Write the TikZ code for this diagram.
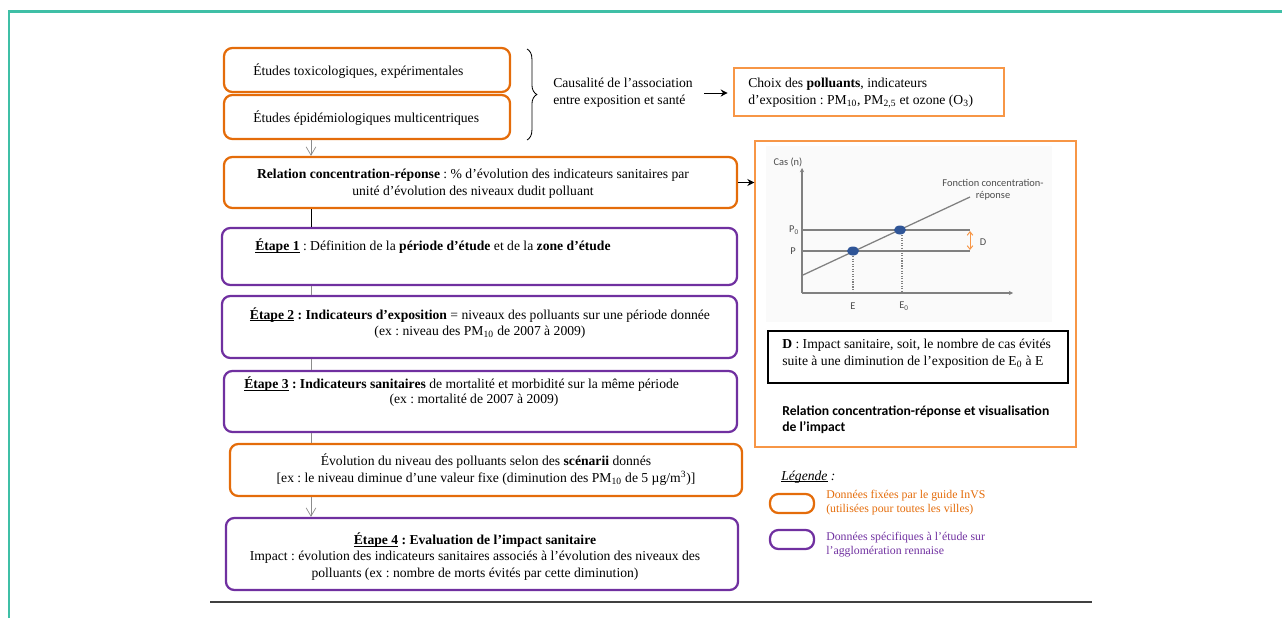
\documentclass[tikz,border=0pt]{standalone}
\usepackage{fontspec}
\setmainfont{Liberation Serif}
\newfontfamily\calibri{Carlito}
\usetikzlibrary{arrows.meta,decorations.pathreplacing,positioning}
\frenchspacing
\definecolor{invsorange}{HTML}{E46C0A}
\definecolor{cadreorange}{HTML}{F79646}
\definecolor{etudeviolet}{HTML}{7030A0}
\definecolor{cadrevert}{HTML}{3FBFA6}
\definecolor{axegris}{HTML}{808080}
\definecolor{pointbleu}{HTML}{2F5597}
\newsavebox{\soulbox}
\newcommand{\souligne}[1]{\sbox{\soulbox}{#1}\rlap{\rule[-1.3pt]{\wd\soulbox}{0.45pt}}\usebox{\soulbox}}
\tikzset{
  fixebox/.style={draw=invsorange, line width=1.6pt, rounded corners=6pt, inner sep=0pt},
  specbox/.style={draw=etudeviolet, line width=1.6pt, rounded corners=6pt, inner sep=0pt},
  cadre/.style={draw=cadreorange, line width=0.9pt, inner sep=0pt},
  txt/.style={font=\fontsize{9.7}{11.8}\selectfont, inner sep=0pt, align=center},
  axetxt/.style={font=\calibri\fontsize{7.4}{8.5}\selectfont, text=black!70, inner sep=0pt, align=center},
  lien/.style={draw=black!45, line width=0.5pt},
  lienfleche/.style={lien, -{Straight Barb[length=6pt,width=7pt]}},
  fleche/.style={line width=0.7pt, -{Stealth[length=5pt,width=5pt]}},
}
\begin{document}
\begin{tikzpicture}[x=0.025cm, y=-0.025cm]
  %%%%% CADRE %%%%%
  \useasboundingbox (0,0) rectangle (1282,618);
  \draw[cadrevert, line width=1.5pt] (9,618) -- (9,11.5) -- (1282,11.5);
  \draw[black!75, line width=1.2pt] (210,602) -- (1092,602);

  %%%%% ETUDES %%%%%
  \node[fixebox, minimum width=7.15cm, minimum height=1.1cm] (toxico) at (367,70) {};
  \node[txt, anchor=west] at (253,71) {Études toxicologiques, expérimentales};
  \node[fixebox, minimum width=7.15cm, minimum height=1.1cm] (epidemio) at (367,117) {};
  \node[txt, anchor=west] at (253,118) {Études épidémiologiques multicentriques};
  \draw[decorate, decoration={brace, amplitude=7pt}, line width=0.6pt] (527,49) -- (527,140);
  \node[txt, anchor=west, align=left] (causal) at (553,93) {Causalité de l’association\\entre exposition et santé};
  \node[cadre, minimum width=6.75cm, minimum height=1.2cm] (choix) at (869,92) {};
  \node[txt, anchor=west, align=left] at (748,93) {Choix des \textbf{polluants}, indicateurs\\d’exposition : PM\textsubscript{10}, PM\textsubscript{2,5} et ozone (O\textsubscript{3})};
  \draw[fleche, shorten <=8pt, shorten >=4pt] (causal.east) -- (causal.east -| choix.west);

  %%%%% RELATION C-R %%%%%
  \node[fixebox, minimum width=12.825cm, minimum height=1.275cm] (relation) at (480.5,182.5) {};
  \node[txt] at (473,184) {\textbf{Relation concentration-réponse} : \% d’évolution des indicateurs sanitaires par\\unité d’évolution des niveaux dudit polluant};

  %%%%% ETAPES %%%%%
  \node[specbox, minimum width=12.875cm, minimum height=1.425cm] (etape1) at (479.5,256.5) {};
  \node[txt, anchor=west] at (255,246) {\souligne{\textbf{Étape 1}} : Définition de la \textbf{période d’étude} et de la \textbf{zone d’étude}};
  \node[specbox, minimum width=12.875cm, minimum height=1.55cm] (etape2) at (479.5,327) {};
  \node[txt] at (480,323) {\souligne{\textbf{Étape 2}}\textbf{ : Indicateurs d’exposition} = niveaux des polluants sur une période donnée\\(ex : niveau des PM\textsubscript{10} de 2007 à 2009)};
  \node[specbox, minimum width=12.825cm, minimum height=1.525cm] (etape3) at (480.5,401.5) {};
  \node[txt, anchor=west] at (244,384) {\souligne{\textbf{Étape 3}}\textbf{ : Indicateurs sanitaires} de mortalité et morbidité sur la même période};
  \node[txt] at (474,400) {(ex : mortalité de 2007 à 2009)};
  \node[fixebox, minimum width=12.8cm, minimum height=1.3cm] (scenario) at (486,470) {};
  \node[txt] at (486,469.5) {Évolution du niveau des polluants selon des \textbf{scénarii} donnés\\{}[ex : le niveau diminue d’une valeur fixe (diminution des PM\textsubscript{10} de 5 µg/m\textsuperscript{3})]};
  \node[specbox, minimum width=12.8cm, minimum height=1.8cm] (etape4) at (482,554) {};
  \node[txt] at (475,556.5) {\souligne{\textbf{Étape 4}}\textbf{ : Evaluation de l’impact sanitaire}\\Impact : évolution des indicateurs sanitaires associés à l’évolution des niveaux des\\polluants (ex : nombre de morts évités par cette diminution)};

  %%%%% LIENS %%%%%
  \coordinate (tige) at (311,0);
  \draw[lienfleche] (epidemio.south -| tige) -- (relation.north -| tige);
  \draw[line width=0.6pt] (relation.south -| tige) -- (etape1.north -| tige);
  \draw[lien] (etape1.south -| tige) -- (etape2.north -| tige);
  \draw[lien] (etape2.south -| tige) -- (etape3.north -| tige);
  \draw[lien] (etape3.south -| tige) -- (scenario.north -| tige);
  \draw[lienfleche] (scenario.south -| tige) -- (etape4.north -| tige);

  %%%%% GRAPHE %%%%%
  \node[cadre, minimum width=8.025cm, minimum height=7.65cm] (graphe) at (915.5,294) {};
  \draw[fleche] (relation.east) -- (relation.east -| graphe.west);
  \fill[black!2] (766,146) rectangle (1052,322);
  \draw[axegris, line width=0.8pt, -{Stealth[length=3pt,width=3pt]}] (802,293) -- (802,168);
  \draw[axegris, line width=0.8pt, -{Stealth[length=3pt,width=3pt]}] (802,293) -- (1013,293);
  \draw[axegris, line width=0.9pt] (803,275) -- (970,197);
  \draw[axegris, line width=0.8pt] (802,230) -- (970,230);
  \draw[axegris, line width=0.8pt] (802,251) -- (970,251);
  \draw[axegris, densely dotted, line width=0.8pt] (853,251) -- (853,293);
  \draw[axegris, densely dotted, line width=0.8pt] (902,230) -- (902,293);
  \fill[pointbleu] (853,251) ellipse (6 and 4.5);
  \fill[pointbleu] (900,230) ellipse (6 and 4.5);
  \draw[cadreorange, line width=0.7pt, {Straight Barb[length=2.5pt,width=4pt]}-{Straight Barb[length=2.5pt,width=4pt]}] (970,231) -- (970,250);
  \node[axetxt] at (788,162) {Cas (n)};
  \node[axetxt] at (993,190) {Fonction concentration-\\réponse};
  \node[axetxt] at (794,230) {P\textsubscript{0}};
  \node[axetxt] at (793,251) {P};
  \node[axetxt] at (983,242) {D};
  \node[axetxt] at (853,306) {E};
  \node[axetxt] at (904,306) {E\textsubscript{0}};
  \node[draw, line width=0.8pt, minimum width=7.5cm, minimum height=1.3cm, inner sep=0pt] (impact) at (918,357) {};
  \node[txt, anchor=west, align=left] at (782,354) {\textbf{D} : Impact sanitaire, soit, le nombre de cas évités\\suite à une diminution de l’exposition de E\textsubscript{0} à E};
  \node[font=\calibri\bfseries\fontsize{9.7}{11}\selectfont, anchor=west, align=left, inner sep=0pt] at (782,420) {Relation concentration-réponse et visualisation\\de l’impact};

  %%%%% LEGENDE %%%%%
  \node[txt, anchor=west, font=\itshape\fontsize{9.7}{11}\selectfont] at (781,477) {\souligne{Légende} :};
  \node[fixebox, minimum width=1.1cm, minimum height=0.475cm] (legfixe) at (792,503.5) {};
  \node[txt, anchor=west, align=left, text=invsorange, font=\fontsize{8.4}{10}\selectfont] at (826,503) {Données fixées par le guide InVS\\(utilisées pour toutes les villes)};
  \node[specbox, minimum width=1.1cm, minimum height=0.475cm] (legspec) at (792,539.5) {};
  \node[txt, anchor=west, align=left, text=etudeviolet, font=\fontsize{8.4}{10}\selectfont] at (826,545) {Données spécifiques à l’étude sur\\l’agglomération rennaise};
\end{tikzpicture}
\end{document}
